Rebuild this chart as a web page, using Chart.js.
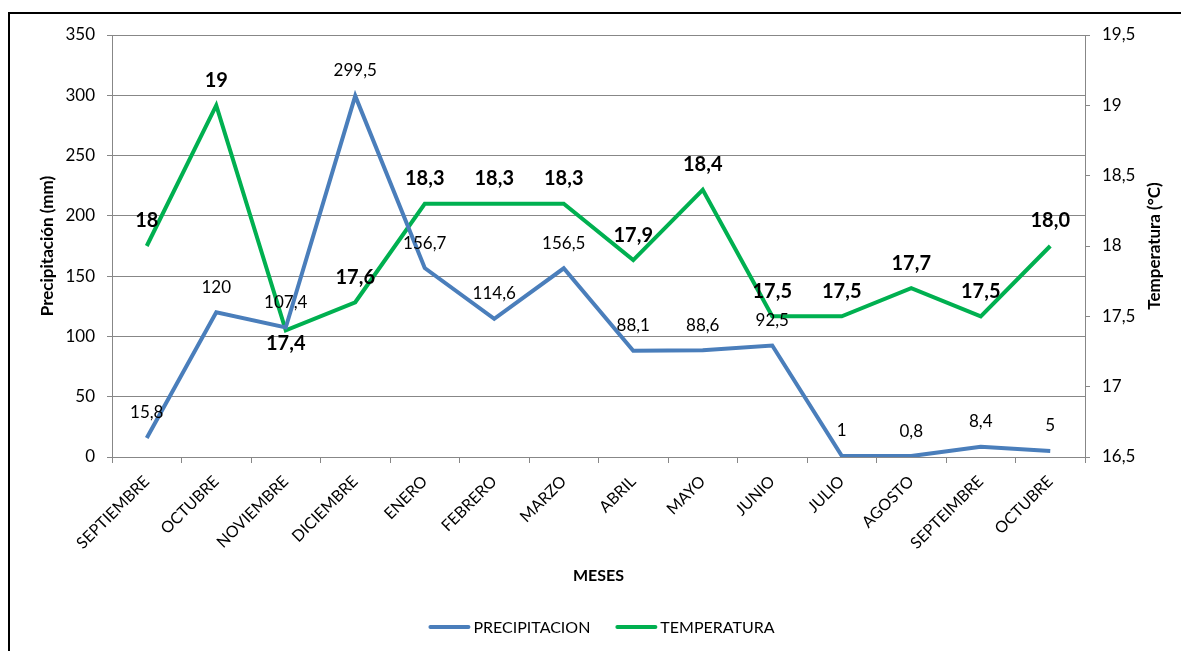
<!DOCTYPE html>
<html>
<head>
<meta charset="utf-8">
<script src="https://cdn.jsdelivr.net/npm/chart.js@4.4.0/dist/chart.umd.min.js"></script>
<style>
  html, body { margin: 0; padding: 0; background: #fff; }
  #wrap { width: 1181px; height: 651px; }
</style>
</head>
<body>
<div id="wrap"><canvas id="climaChart" width="1181" height="651"></canvas></div>
<script>
const meses = ['SEPTIEMBRE', 'OCTUBRE', 'NOVIEMBRE', 'DICIEMBRE', 'ENERO', 'FEBRERO', 'MARZO',
    'ABRIL', 'MAYO', 'JUNIO', 'JULIO', 'AGOSTO', 'SEPTEIMBRE', 'OCTUBRE'];
const precipitacion = [15.8, 120, 107.4, 299.5, 156.7, 114.6, 156.5, 88.1, 88.6, 92.5, 1, 0.8, 8.4, 5];
const temperatura = [18, 19, 17.4, 17.6, 18.3, 18.3, 18.3, 17.9, 18.4, 17.5, 17.5, 17.7, 17.5, 18.0];
const etiquetasTemp = ['18', '19', '17,4', '17,6', '18,3', '18,3', '18,3', '17,9', '18,4',
    '17,5', '17,5', '17,7', '17,5', '18,0'];
const ticksPrecip = [0, 50, 100, 150, 200, 250, 300, 350];
const ticksTemp = [16.5, 17, 17.5, 18, 18.5, 19, 19.5];
// temperature labels that sit under the line
const debajo = [2];

const AZUL = '#4A7EBB';
const VERDE = '#00B050';
const GRIS = '#878787';

const coma = v => String(v).replace('.', ',');

Chart.defaults.font.family = 'Lato';
Chart.defaults.color = '#000';

const etiquetas = {
    id: 'etiquetas',
    beforeDraw(chart) {
        const ctx = chart.ctx;
        ctx.save();
        ctx.fillStyle = '#fff';
        ctx.fillRect(0, 0, chart.width, chart.height);
        ctx.restore();
    },
    afterDatasetsDraw(chart) {
        const ctx = chart.ctx;
        ctx.save();
        ctx.textAlign = 'center';
        ctx.textBaseline = 'middle';
        ctx.fillStyle = '#000';

        ctx.font = '17px Lato';
        chart.getDatasetMeta(0).data.forEach((pt, i) => {
            ctx.fillText(coma(precipitacion[i]), pt.x, pt.y - 25);
        });

        ctx.font = 'bold 20px Lato';
        chart.getDatasetMeta(1).data.forEach((pt, i) => {
            const dy = debajo.includes(i) ? 13 : -25;
            ctx.fillText(etiquetasTemp[i], pt.x, pt.y + dy);
        });
        ctx.restore();
    },
    afterDraw(chart) {
        const ctx = chart.ctx;
        const area = chart.chartArea;
        ctx.save();

        // right axis title, read bottom to top like the left one
        ctx.font = 'bold 17px Lato';
        ctx.textAlign = 'center';
        ctx.textBaseline = 'middle';
        ctx.fillStyle = '#000';
        ctx.save();
        ctx.translate(1155, (area.top + area.bottom) / 2);
        ctx.rotate(-Math.PI / 2);
        ctx.fillText('Temperatura (°C)', 0, 0);
        ctx.restore();

        // legend
        ctx.font = '16px Lato';
        ctx.textAlign = 'left';
        const items = chart.data.datasets.map(ds => ({
            text: ds.label, color: ds.borderColor, w: ctx.measureText(ds.label).width
        }));
        const largoLinea = 38, hueco = 5, entre = 27;
        const total = items.reduce((s, it) => s + largoLinea + hueco + it.w, 0) + entre * (items.length - 1);
        let x = (area.left + area.right) / 2 - total / 2 + 4;
        const y = 627;
        items.forEach(it => {
            ctx.strokeStyle = it.color;
            ctx.lineWidth = 4;
            ctx.lineCap = 'round';
            ctx.beginPath();
            ctx.moveTo(x, y);
            ctx.lineTo(x + largoLinea, y);
            ctx.stroke();
            ctx.fillStyle = '#000';
            ctx.fillText(it.text, x + largoLinea + hueco, y + 1);
            x += largoLinea + hueco + it.w + entre;
        });

        // outer frame
        ctx.strokeStyle = '#000';
        ctx.lineWidth = 2;
        ctx.lineCap = 'butt';
        ctx.beginPath();
        ctx.moveTo(9, chart.height + 5);
        ctx.lineTo(9, 13);
        ctx.lineTo(chart.width + 5, 13);
        ctx.stroke();
        ctx.restore();
    }
};

const ctx = document.getElementById('climaChart').getContext('2d');
new Chart(ctx, {
    type: 'line',
    data: {
        labels: meses,
        datasets: [
            {
                label: 'PRECIPITACION',
                data: precipitacion,
                borderColor: AZUL,
                backgroundColor: AZUL,
                borderWidth: 4,
                pointRadius: 0,
                tension: 0,
                yAxisID: 'y'
            },
            {
                label: 'TEMPERATURA',
                data: temperatura,
                borderColor: VERDE,
                backgroundColor: VERDE,
                borderWidth: 4,
                pointRadius: 0,
                tension: 0,
                yAxisID: 'y1'
            }
        ]
    },
    options: {
        responsive: false,
        animation: false,
        layout: { padding: { top: 35, left: 0, right: 0, bottom: 0 } },
        plugins: {
            legend: { display: false },
            tooltip: { enabled: false }
        },
        scales: {
            x: {
                offset: true,
                grid: { offset: true, drawOnChartArea: false, color: GRIS, tickLength: 6 },
                border: { color: GRIS },
                ticks: {
                    autoSkip: false,
                    minRotation: 45,
                    maxRotation: 45,
                    padding: 9,
                    font: { size: 16 }
                },
                title: {
                    display: true,
                    text: 'MESES',
                    font: { size: 16, weight: 'bold', lineHeight: 1.2 },
                    padding: { top: 0, bottom: 66 }
                },
                afterFit: s => { s.height = 194; }
            },
            y: {
                position: 'left',
                min: ticksPrecip[0],
                max: ticksPrecip[ticksPrecip.length - 1],
                afterBuildTicks: s => { s.ticks = ticksPrecip.map(v => ({ value: v })); },
                grid: { color: GRIS, tickLength: 5 },
                border: { color: GRIS },
                ticks: { padding: 12, font: { size: 17 } },
                title: {
                    display: true,
                    text: 'Precipitación (mm)',
                    font: { size: 17, weight: 'bold', lineHeight: 1.2 },
                    padding: { top: 37, bottom: 0 }
                },
                afterFit: s => { s.width = 112; }
            },
            y1: {
                position: 'right',
                min: ticksTemp[0],
                max: ticksTemp[ticksTemp.length - 1],
                afterBuildTicks: s => { s.ticks = ticksTemp.map(v => ({ value: v })); },
                grid: { drawOnChartArea: false, color: GRIS, tickLength: 5 },
                border: { color: GRIS },
                ticks: { padding: 12, font: { size: 17 }, callback: v => coma(v) },
                title: { display: false },
                afterFit: s => { s.width = 96; }
            }
        }
    },
    plugins: [etiquetas]
});
</script>
</body>
</html>
